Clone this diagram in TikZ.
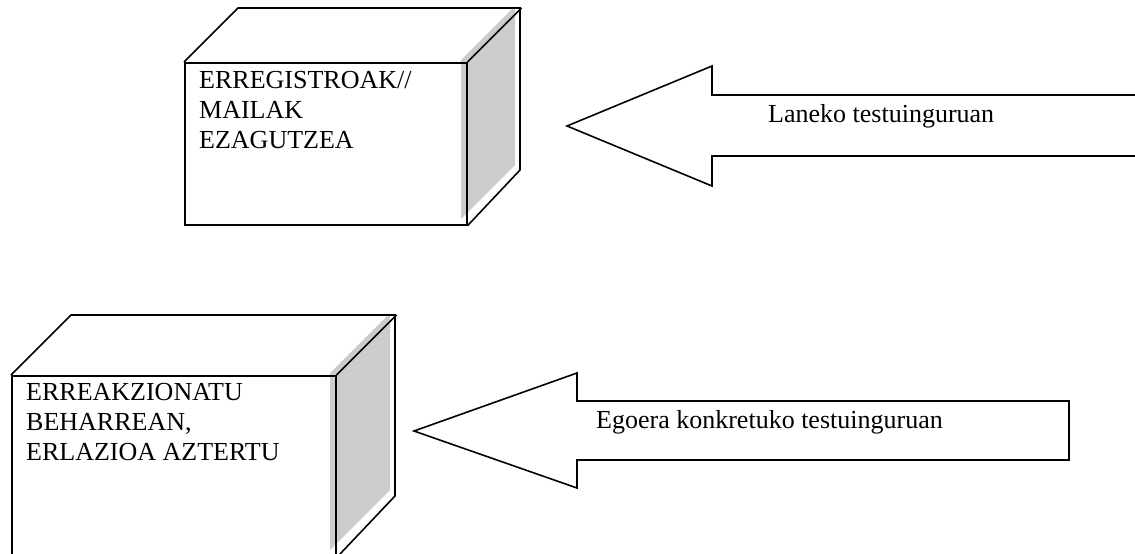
\documentclass[tikz,border=0pt]{standalone}
\usepackage{fontspec}
\setmainfont{Liberation Serif}
\begin{document}
\begin{tikzpicture}[x=1pt,y=-1pt,
  outline/.style={draw=black,line width=1.6pt,line join=miter},
  sideshade/.style={fill=black!20,draw=none},
  facebox/.style={outline,anchor=north west,inner sep=0pt},
  boxtext/.style={anchor=north west,inner sep=0pt,align=left,
    font=\fontsize{26}{30}\selectfont},
  labeltext/.style={anchor=base west,inner sep=0pt,
    font=\fontsize{26}{30}\selectfont}]
\useasboundingbox (0,0) rectangle (1135,554);
\clip (0,0) rectangle (1135,554);

% upper block: shaded side, front face, top and side edges
\fill[sideshade] (461,60) -- (515,6) -- (515,165) -- (461,219) -- cycle;
\node[facebox,minimum width=282pt,minimum height=162pt] (front1) at (184,62) {};
\draw[outline] (front1.north west) -- ++(54,-54) -- ++(282,0) -- ++(0,162)
  -- (front1.south east);
\draw[outline] (front1.north east) -- ++(54,-54);
\node[boxtext] (txt1) at (199,71) {ERREGISTROAK//\\MAILAK\\EZAGUTZEA};

% lower block
\fill[sideshade] (330,373) -- (390,313) -- (390,490) -- (330,550) -- cycle;
\node[facebox,minimum width=324pt,minimum height=181pt] (front2) at (11,375) {};
\draw[outline] (front2.north west) -- ++(60,-60) -- ++(324,0) -- ++(0,181)
  -- (front2.south east);
\draw[outline] (front2.north east) -- ++(60,-60);
\node[boxtext] (txt2) at (26,383) {ERREAKZIONATU\\BEHARREAN,\\ERLAZIOA AZTERTU};

% block arrows pointing left
\draw[outline] (1140,95) -- (712,95) -- (712,66) -- (567,126) -- (712,186)
  -- (712,156) -- (1140,156);
\node[labeltext] (lab1) at (768,122) {Laneko testuinguruan};

\draw[outline] (1069,401) -- (577,401) -- (577,373) -- (414,431) -- (577,488)
  -- (577,460) -- (1069,460) -- cycle;
\node[labeltext] (lab2) at (596,428) {Egoera konkretuko testuinguruan};
\end{tikzpicture}
\end{document}
